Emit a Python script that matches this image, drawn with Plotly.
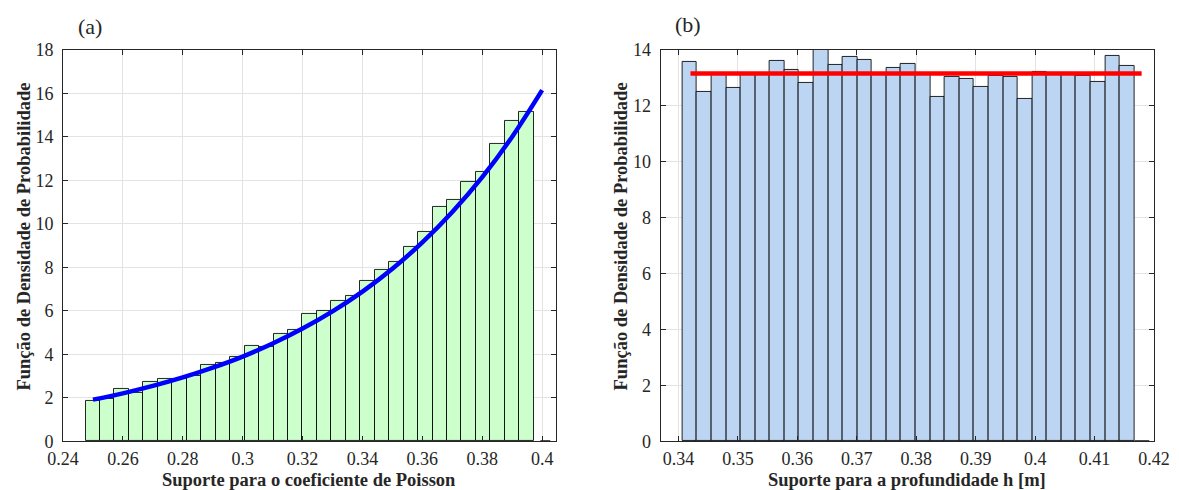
import numpy as np
import plotly.graph_objects as go

# ---------------- data ----------------
# (a) Poisson coefficient histogram (31 bins)
a_bin_start = 0.24753
a_bin_width = 0.004828
a_heights = [1.87, 1.95, 2.40, 2.21, 2.72, 2.89, 2.85, 3.03, 3.50, 3.62,
             3.90, 4.41, 4.35, 4.96, 5.11, 5.84, 6.02, 6.44, 6.71, 7.40,
             7.90, 8.26, 8.94, 9.65, 10.77, 11.11, 11.92, 12.40, 13.66, 14.72, 15.15]
a_curve_x = [0.25, 0.26, 0.27, 0.28, 0.29, 0.30, 0.31, 0.32, 0.33, 0.34,
             0.35, 0.36, 0.37, 0.38, 0.39, 0.40]
a_curve_y = [1.92, 2.21, 2.55, 2.94, 3.39, 3.90, 4.50, 5.19, 5.98, 6.89,
             7.94, 9.15, 10.55, 12.15, 14.01, 16.15]
a_empty_bin = [0.3994, 0.4027]     # near-empty bin drawn as a flat outline
a_xticks = [0.24, 0.26, 0.28, 0.30, 0.32, 0.34, 0.36, 0.38, 0.40]
a_xticklabels = ["0.24", "0.26", "0.28", "0.3", "0.32", "0.34", "0.36", "0.38", "0.4"]
a_yticks = [0, 2, 4, 6, 8, 10, 12, 14, 16, 18]

# (b) depth h histogram (31 bins)
b_bin_start = 0.34067
b_bin_width = 0.0024523
b_heights = [13.56, 12.50, 13.12, 12.65, 13.14, 13.12, 13.59, 13.28, 12.81, 13.99,
             13.48, 13.76, 13.63, 13.15, 13.34, 13.50, 13.12, 12.31, 13.03, 12.95,
             12.66, 13.08, 13.05, 12.23, 13.23, 13.18, 13.16, 13.07, 12.86, 13.79, 13.43]
b_line_x = [0.34202, 0.41792]
b_line_y = [13.16, 13.16]
b_empty_bin = [0.4167, 0.4192]
b_xticks = [0.34, 0.35, 0.36, 0.37, 0.38, 0.39, 0.40, 0.41, 0.42]
b_xticklabels = ["0.34", "0.35", "0.36", "0.37", "0.38", "0.39", "0.4", "0.41", "0.42"]
b_yticks = [0, 2, 4, 6, 8, 10, 12, 14]

# ---------------- figure ----------------
FONT = "Liberation Serif"
AX_COL = "#262626"

a_centers = a_bin_start + a_bin_width * (np.arange(len(a_heights)) + 0.5)
b_centers = b_bin_start + b_bin_width * (np.arange(len(b_heights)) + 0.5)

fig = go.Figure()
fig.add_trace(go.Bar(x=a_centers, y=a_heights, width=a_bin_width,
                     marker=dict(color="#ccffcc", line=dict(color="rgba(0,0,0,0.85)", width=1)),
                     xaxis="x", yaxis="y", showlegend=False))
fig.add_trace(go.Scatter(x=a_empty_bin, y=[0, 0], mode="lines",
                         line=dict(color="#111111", width=2.5),
                         xaxis="x", yaxis="y", showlegend=False, cliponaxis=False))
fig.add_trace(go.Scatter(x=a_curve_x, y=a_curve_y, mode="lines",
                         line=dict(color="#0000ff", width=4.5, shape="spline"),
                         xaxis="x", yaxis="y", showlegend=False))
fig.add_trace(go.Bar(x=b_centers, y=b_heights, width=b_bin_width,
                     marker=dict(color="#bcd5f2", line=dict(color="rgba(0,0,0,0.85)", width=1)),
                     xaxis="x2", yaxis="y2", showlegend=False))
fig.add_trace(go.Scatter(x=b_empty_bin, y=[0, 0], mode="lines",
                         line=dict(color="#111111", width=2.5),
                         xaxis="x2", yaxis="y2", showlegend=False, cliponaxis=False))
fig.add_trace(go.Scatter(x=b_line_x, y=b_line_y, mode="lines",
                         line=dict(color="#ff0000", width=4.5),
                         xaxis="x2", yaxis="y2", showlegend=False))

def axis_common(standoff):
    return dict(showline=True, linecolor=AX_COL, linewidth=1, mirror="ticks",
                ticks="inside", ticklen=5, tickcolor=AX_COL, tickwidth=1,
                showgrid=True, gridcolor="#e3e3e3", gridwidth=1, zeroline=False,
                ticklabelstandoff=standoff,
                tickfont=dict(family=FONT, size=18, color=AX_COL))

W, H = 1195, 501

# map target picture pixels to figure pixels (empirical page framing)
def fx(xp):
    return (xp - 14.6) / 0.975

def fy(yp):
    return (yp - 10.1) / 0.959

def px_x(xp):
    return fx(xp) / W

def px_y(yp):
    return 1 - fy(yp) / H

ydom = [px_y(441), px_y(50)]
fig.update_layout(
    width=W, height=H,
    margin=dict(l=0, r=0, t=0, b=0),
    paper_bgcolor="white", plot_bgcolor="white",
    bargap=0,
    xaxis=dict(domain=[px_x(61.7), px_x(555.5)], range=[0.24, 0.4046], anchor="y",
               tickvals=a_xticks, ticktext=a_xticklabels, **axis_common(1)),
    yaxis=dict(domain=ydom, range=[0, 18], anchor="x", tickvals=a_yticks, **axis_common(5)),
    xaxis2=dict(domain=[px_x(660.4), px_x(1154.7)], range=[0.337, 0.42], anchor="y2",
                tickvals=b_xticks, ticktext=b_xticklabels, **axis_common(1)),
    yaxis2=dict(domain=ydom, range=[0, 14], anchor="x2", tickvals=b_yticks, **axis_common(5)),
)

def ann(text, x, y, size, bold=False, angle=0):
    fig.add_annotation(text=f"<b>{text}</b>" if bold else text,
                       x=px_x(x), y=px_y(y), xref="paper", yref="paper",
                       xanchor="center", yanchor="middle", showarrow=False,
                       textangle=angle, font=dict(family=FONT, size=size, color=AX_COL))

ann("Função de Densidade de Probabilidade", 23, 236, 18.5, bold=True, angle=-90)
ann("Função de Densidade de Probabilidade", 621, 236, 18.5, bold=True, angle=-90)
ann("Suporte para o coeficiente de Poisson", 308.6, 479.5, 18.5, bold=True)
ann("Suporte para a profundidade h [m]", 907.5, 479.5, 18.5, bold=True)
ann("(a)", 89, 27, 22)
ann("(b)", 688, 25, 22)

fig.write_html("out.html")
